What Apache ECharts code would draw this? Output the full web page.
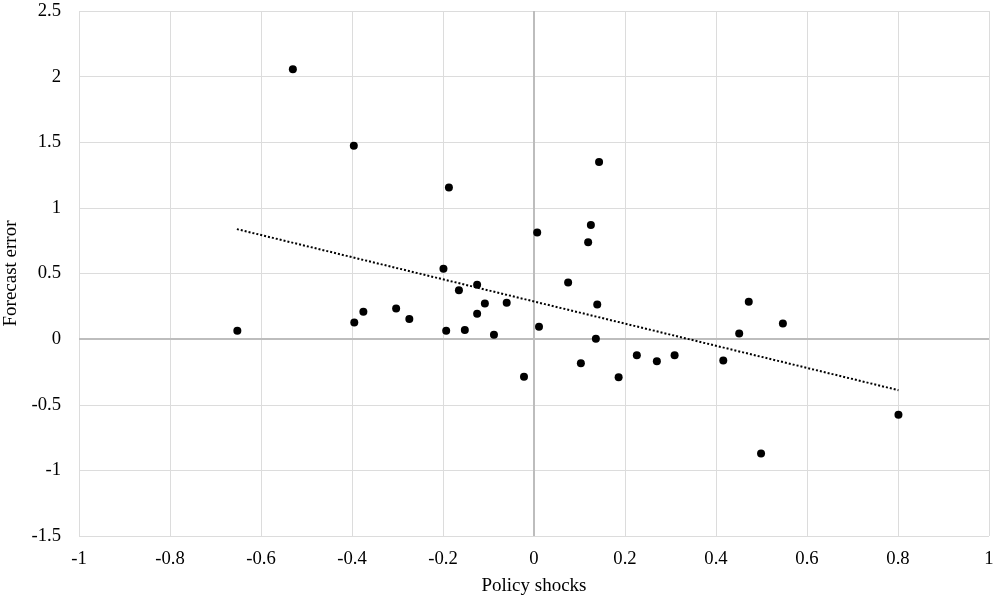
<!DOCTYPE html>
<html>
<head>
<meta charset="utf-8">
<script src="https://cdn.jsdelivr.net/npm/echarts@6/dist/echarts.min.js"></script>
<style>
html,body{margin:0;padding:0;background:#fff;}
#chart{width:994px;height:601px;}
</style>
</head>
<body>
<div id="chart"></div>
<script>
const policyShocks = [-0.652,-0.530,-0.396,-0.187,0.143,0.007,0.125,0.119,-0.199,0.075,-0.165,-0.125,-0.108,-0.060,-0.125,-0.303,-0.375,-0.395,-0.274,-0.193,-0.152,-0.088,0.011,0.139,0.136,-0.022,0.103,0.186,0.226,0.270,0.309,0.416,0.451,0.472,0.547,0.499,0.801];
const forecastErrors = [0.063,2.057,1.473,1.156,1.349,0.813,0.869,0.739,0.536,0.432,0.373,0.414,0.272,0.277,0.193,0.234,0.208,0.126,0.154,0.063,0.069,0.033,0.094,0.264,0.002,-0.287,-0.183,-0.291,-0.122,-0.168,-0.122,-0.162,0.043,0.284,0.120,-0.871,-0.577];
const trendX = [-0.653, 0.801];
const trendY = [0.838, -0.389];

const FONT = '"Liberation Serif","Times New Roman",serif';
const chart = echarts.init(document.getElementById('chart'), null, {renderer:'canvas'});
const points = policyShocks.map((x,i)=>[x, forecastErrors[i]]);
const trend = trendX.map((x,i)=>[x, trendY[i]]);

chart.setOption({
  animation:false,
  backgroundColor:'#fff',
  grid:{left:79,right:5,top:11,bottom:65,containLabel:false,outerBoundsMode:'none'},
  xAxis:{
    type:'value',min:-1,max:1,interval:0.2,
    name:'Policy shocks',nameLocation:'middle',nameGap:41,
    nameTextStyle:{fontFamily:FONT,fontSize:19,color:'#000'},
    axisLine:{show:false},axisTick:{show:false},
    axisLabel:{fontFamily:FONT,fontSize:18.7,color:'#000',margin:14,hideOverlap:false},
    splitLine:{show:true,lineStyle:{color:'#dcdcdc',width:1}}
  },
  yAxis:{
    type:'value',min:-1.5,max:2.5,interval:0.5,
    name:'Forecast error',nameLocation:'middle',nameGap:51,nameRotate:90,
    nameTextStyle:{fontFamily:FONT,fontSize:19,color:'#000'},
    axisLine:{show:false},axisTick:{show:false},
    axisLabel:{fontFamily:FONT,fontSize:18.7,color:'#000',margin:18,hideOverlap:false},
    splitLine:{show:true,lineStyle:{color:'#dcdcdc',width:1}}
  },
  series:[
    {
      type:'line',data:trend,showSymbol:false,symbol:'none',silent:true,
      lineStyle:{color:'#000',width:2,type:[2,2]},z:3
    },
    {
      type:'scatter',data:points,symbol:'circle',symbolSize:8,
      itemStyle:{color:'#000',opacity:1},z:4,
      markLine:{
        silent:true,symbol:'none',animation:false,
        label:{show:false},
        lineStyle:{color:'#bdbdbd',width:2,type:'solid',opacity:1},
        data:[{xAxis:0},{yAxis:0}],
        z:1
      }
    }
  ]
});
</script>
</body>
</html>
